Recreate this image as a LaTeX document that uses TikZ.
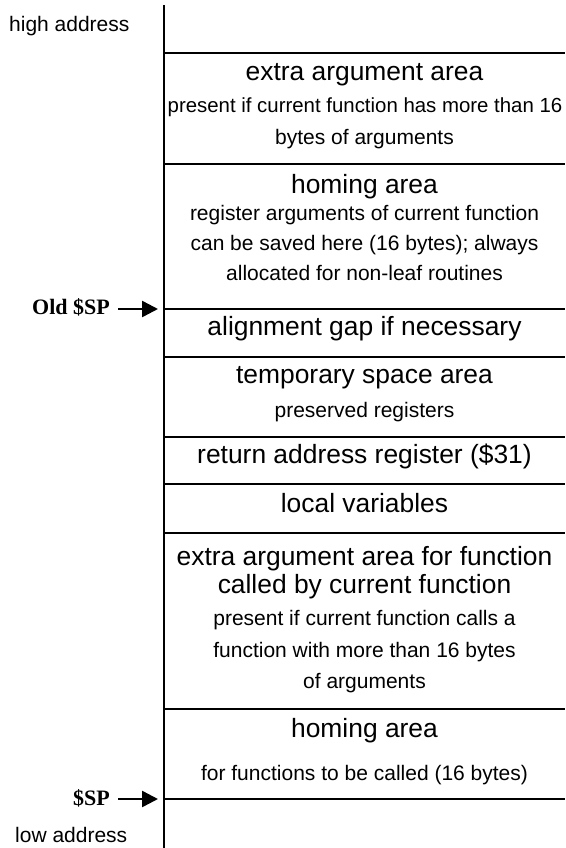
\documentclass[tikz,border=0pt]{standalone}
\usepackage{fontspec}
\setmainfont{Liberation Sans}
\newfontfamily\spfont{Liberation Serif}
\usetikzlibrary{arrows.meta}
\tikzset{
  wall/.style  ={line width=2pt},
  big/.style   ={font=\fontsize{26.4}{30}\selectfont, inner sep=0pt, anchor=base},
  small/.style ={font=\fontsize{21}{30}\selectfont, inner sep=0pt, anchor=base},
  splabel/.style={font=\spfont\bfseries\fontsize{22}{26}\selectfont, inner sep=0pt, anchor=base east},
  sparrow/.style={line width=2.5pt, -{Triangle[length=16pt,width=16pt]}},
}

\begin{document}
\begin{tikzpicture}[x=1pt, y=1pt, line cap=butt]
  \useasboundingbox (0,0) rectangle (565,-848);

  %--- The stack wall and its boundaries ---
  \coordinate (top) at (164,-5);
  \coordinate (bot) at (164,-848);
  \coordinate (R)   at (565,0);
  \coordinate (b1) at (164,-53);
  \coordinate (b2) at (164,-164);
  \coordinate (b3) at (164,-309);   % old sp
  \coordinate (b4) at (164,-357);
  \coordinate (b5) at (164,-437);
  \coordinate (b6) at (164,-484);
  \coordinate (b7) at (164,-533);
  \coordinate (b8) at (164,-709);
  \coordinate (b9) at (164,-799);   % sp

  \draw[wall] (top) -- (bot);
  \foreach \b in {b1,b2,b3,b4,b5,b6,b7,b8,b9}
    \draw[wall] (\b) -- (\b -| R);

  %--- Address labels ---
  \node[small, anchor=base west] (high) at (9,-32) {high address};
  \node[small, anchor=base west] (low)  at (15,-842) {low address};

  %--- Caller's part of the frame ---
  \node[big]   (xarg)  at (364.5,-81)  {extra argument area};
  \node[small, font=\fontsize{20.4}{30}\selectfont] (xargA) at (365,-113) {present if current function has more than 16};
  \node[small] (xargB) at (364.5,-144) {bytes of arguments};

  \node[big]   (home)  at (364.5,-193) {homing area};
  \node[small] (homeA) at (364.5,-220) {register arguments of current function};
  \node[small] (homeB) at (364.5,-250) {can be saved here (16 bytes); always};
  \node[small] (homeC) at (364.5,-280) {allocated for non-leaf routines};

  %--- Current function's frame ---
  \node[big]   (gap)   at (364.5,-335) {alignment gap if necessary};

  \node[big]   (temp)  at (364.5,-383) {temporary space area};
  \node[small] (tempA) at (364.5,-417) {preserved registers};

  \node[big]   (ret)   at (364.5,-463) {return address register (\$31)};

  \node[big]   (local) at (364.5,-512) {local variables};

  \node[big]   (cxarg)  at (364.5,-565) {extra argument area for function};
  \node[big]   (cxargA) at (364.5,-593) {called by current function};
  \node[small] (cxargB) at (364.5,-625) {present if current function calls a};
  \node[small] (cxargC) at (364.5,-657) {function with more than 16 bytes};
  \node[small] (cxargD) at (364.5,-688) {of arguments};

  \node[big]   (chome)  at (364.5,-737) {homing area};
  \node[small] (chomeA) at (364.5,-780) {for functions to be called (16 bytes)};

  %--- Stack pointers ---
  \node[splabel] (oldsp) at (110,-314) {Old \$SP};
  \draw[sparrow] ([xshift=8pt]oldsp.east |- b3) -- ([xshift=-6pt]b3);

  \node[splabel] (sp) at (110,-805) {\$SP};
  \draw[sparrow] ([xshift=8pt]sp.east |- b9) -- ([xshift=-6pt]b9);

\end{tikzpicture}
\end{document}
